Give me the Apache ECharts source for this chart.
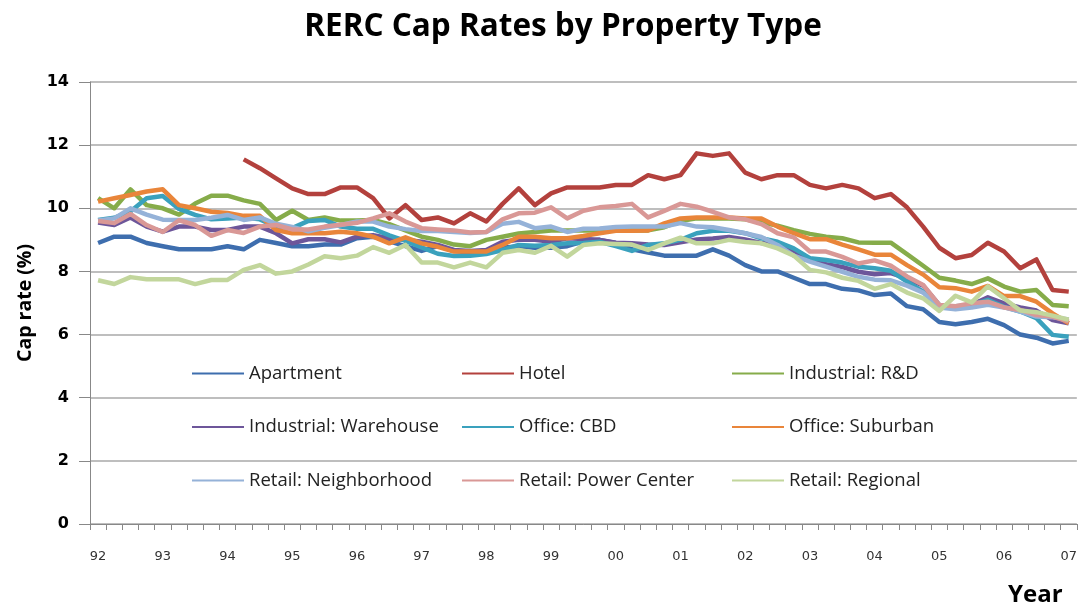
<!DOCTYPE html>
<html>
<head>
<meta charset="utf-8">
<script src="https://cdn.jsdelivr.net/npm/echarts@6/dist/echarts.min.js"></script>
<style>
  html, body { margin: 0; padding: 0; background: #fff; }
  #main { width: 1080px; height: 611px; }
</style>
</head>
<body>
<div id="main"></div>
<script>
var years = ['92', '93', '94', '95', '96', '97', '98', '99', '00', '01', '02', '03', '04', '05', '06', '07'];

// quarterly categories, 92Q1 .. 07Q1
var categories = [];
years.forEach(function (y, i) {
    var n = (i === years.length - 1) ? 1 : 4;
    for (var q = 1; q <= n; q++) categories.push(y + 'Q' + q);
});

var apartment = [8.9, 9.1, 9.1, 8.9, 8.8, 8.7, 8.7, 8.7, 8.8, 8.7, 9.0, 8.9, 8.8, 8.8, 8.85,
    8.85, 9.05, 9.1, 8.95, 8.8, 8.65, 8.8, 8.65, 8.6, 8.65, 8.75, 8.8, 8.75, 8.75, 8.8,
    8.95, 9.0, 8.9, 8.7, 8.6, 8.5, 8.5, 8.5, 8.7, 8.5, 8.2, 8.0, 8.0, 7.8, 7.6,
    7.6, 7.45, 7.4, 7.25, 7.3, 6.9, 6.8, 6.4, 6.33, 6.4, 6.5, 6.3, 6.0, 5.9, 5.72, 5.8];
var hotel = [null, null, null, null, null, null, null, null, null, 11.55, 11.27, 10.95, 10.63, 10.45, 10.45,
    10.66, 10.66, 10.32, 9.68, 10.1, 9.63, 9.71, 9.52, 9.84, 9.58, 10.14, 10.63, 10.1, 10.47, 10.66,
    10.66, 10.66, 10.74, 10.74, 11.05, 10.92, 11.05, 11.74, 11.66, 11.74, 11.13, 10.92, 11.05, 11.05, 10.74,
    10.63, 10.74, 10.63, 10.32, 10.45, 10.03, 9.42, 8.75, 8.42, 8.52, 8.91, 8.63, 8.1, 8.38, 7.41, 7.36];
var industrialRD = [10.32, 10.0, 10.6, 10.1, 10.0, 9.8, 10.15, 10.4, 10.4, 10.25, 10.14, 9.63, 9.92, 9.63, 9.71,
    9.61, 9.61, 9.63, 9.5, 9.3, 9.1, 9.0, 8.85, 8.8, 9.0, 9.1, 9.2, 9.25, 9.3, 9.3,
    9.3, 9.3, 9.3, 9.3, 9.3, 9.4, 9.6, 9.68, 9.68, 9.68, 9.65, 9.55, 9.45, 9.31, 9.19,
    9.1, 9.05, 8.92, 8.91, 8.91, 8.55, 8.18, 7.8, 7.71, 7.6, 7.78, 7.52, 7.36, 7.41, 6.94, 6.9];
var industrialWarehouse = [9.55, 9.47, 9.71, 9.42, 9.26, 9.42, 9.42, 9.31, 9.31, 9.42, 9.42, 9.21, 8.89, 9.02, 9.02,
    8.92, 9.1, 9.15, 9.05, 9.0, 8.94, 8.84, 8.68, 8.65, 8.68, 8.94, 9.0, 9.0, 8.94, 9.05,
    9.03, 9.0, 8.91, 8.89, 8.85, 8.84, 8.92, 9.01, 9.04, 9.09, 9.01, 8.9, 8.84, 8.63, 8.4,
    8.23, 8.14, 7.99, 7.91, 7.95, 7.78, 7.55, 6.94, 6.86, 6.94, 7.18, 6.99, 6.86, 6.76, 6.46, 6.36];
var officeCBD = [9.63, 9.7, 9.9, 10.32, 10.39, 9.98, 9.79, 9.65, 9.68, 9.71, 9.65, 9.42, 9.37, 9.6, 9.63,
    9.42, 9.35, 9.35, 9.14, 8.97, 8.76, 8.56, 8.49, 8.5, 8.55, 8.68, 8.84, 8.81, 8.84, 8.89,
    8.9, 8.94, 8.8, 8.65, 8.84, 8.89, 9.0, 9.21, 9.29, 9.29, 9.21, 9.05, 8.94, 8.73, 8.42,
    8.36, 8.28, 8.15, 8.1, 8.02, 7.68, 7.36, 6.9, 6.9, 6.94, 7.1, 6.88, 6.73, 6.52, 5.99, 5.93];
var officeSuburban = [10.21, 10.32, 10.42, 10.53, 10.6, 10.1, 10.0, 9.89, 9.85, 9.76, 9.76, 9.31, 9.21, 9.21, 9.21,
    9.26, 9.21, 9.1, 8.89, 9.08, 8.89, 8.78, 8.63, 8.63, 8.63, 8.84, 9.1, 9.1, 9.05, 9.05,
    9.12, 9.21, 9.29, 9.29, 9.3, 9.52, 9.68, 9.71, 9.71, 9.71, 9.68, 9.68, 9.42, 9.21, 9.02,
    9.02, 8.85, 8.7, 8.53, 8.53, 8.2, 7.9, 7.5, 7.47, 7.36, 7.54, 7.22, 7.22, 7.04, 6.67, 6.36];
var retailNeighborhood = [9.61, 9.68, 10.0, 9.8, 9.64, 9.63, 9.63, 9.7, 9.79, 9.63, 9.71, 9.51, 9.41, 9.27, 9.38,
    9.47, 9.58, 9.58, 9.42, 9.34, 9.28, 9.28, 9.25, 9.22, 9.25, 9.51, 9.57, 9.37, 9.42, 9.25,
    9.35, 9.36, 9.41, 9.42, 9.42, 9.42, 9.53, 9.42, 9.4, 9.31, 9.21, 9.09, 8.84, 8.5, 8.31,
    8.15, 7.99, 7.83, 7.74, 7.72, 7.55, 7.33, 6.86, 6.8, 6.86, 6.94, 6.86, 6.73, 6.57, 6.55, 6.48];
var retailPowerCenter = [9.6, 9.53, 9.82, 9.47, 9.25, 9.62, 9.47, 9.13, 9.31, 9.22, 9.42, 9.47, 9.33, 9.33, 9.42,
    9.48, 9.54, 9.68, 9.84, 9.58, 9.37, 9.33, 9.3, 9.23, 9.25, 9.65, 9.84, 9.86, 10.03, 9.68,
    9.92, 10.03, 10.07, 10.14, 9.71, 9.92, 10.14, 10.05, 9.89, 9.71, 9.65, 9.5, 9.21, 9.08, 8.63,
    8.63, 8.46, 8.25, 8.35, 8.18, 7.84, 7.57, 6.94, 6.9, 6.99, 7.04, 6.86, 6.78, 6.62, 6.57, 6.41];
var retailRegional = [7.72, 7.6, 7.82, 7.75, 7.75, 7.75, 7.6, 7.73, 7.73, 8.05, 8.2, 7.93, 8.0, 8.22, 8.48,
    8.42, 8.5, 8.77, 8.59, 8.84, 8.28, 8.28, 8.13, 8.28, 8.13, 8.59, 8.68, 8.59, 8.81, 8.47,
    8.84, 8.89, 8.87, 8.85, 8.68, 8.89, 9.07, 8.89, 8.89, 9.0, 8.93, 8.89, 8.73, 8.5, 8.05,
    7.97, 7.8, 7.7, 7.45, 7.6, 7.33, 7.15, 6.75, 7.23, 7.02, 7.53, 7.15, 6.76, 6.71, 6.6, 6.47];

var seriesNames = ['Apartment', 'Hotel', 'Industrial: R&D', 'Industrial: Warehouse', 'Office: CBD',
    'Office: Suburban', 'Retail: Neighborhood', 'Retail: Power Center', 'Retail: Regional'];
var seriesData = [apartment, hotel, industrialRD, industrialWarehouse, officeCBD,
    officeSuburban, retailNeighborhood, retailPowerCenter, retailRegional];
var colors = ['#3e6eae', '#b3413d', '#86ac4a', '#6d569a', '#3aa1bd',
    '#e9853a', '#95b2d8', '#d99896', '#c2d69c'];

var myChart = echarts.init(document.getElementById('main'));

var legendText = { fontFamily: 'Open Sans', fontSize: 18.5, color: '#222' };
function legendColumn(left, names) {
    return {
        orient: 'vertical',
        left: left,
        top: 359,
        itemWidth: 52,
        itemHeight: 20,
        itemGap: 34.5,
        icon: 'path://M0,9 L52,9 L52,11 L0,11 Z',
        textStyle: legendText,
        data: names
    };
}

var option = {
    animation: false,
    color: colors,
    title: [
        {
            text: 'RERC Cap Rates by Property Type',
            left: 558,
            top: 6,
            textAlign: 'center',
            textStyle: { fontFamily: 'Open Sans', fontWeight: 'bold', fontSize: 31.5, color: '#000' }
        },
        {
            text: 'Year',
            left: 1003,
            top: 578,
            textStyle: { fontFamily: 'Open Sans', fontWeight: 'bold', fontSize: 24, color: '#000' }
        }
    ],
    legend: [
        legendColumn(187, [seriesNames[0], seriesNames[3], seriesNames[6]]),
        legendColumn(457, [seriesNames[1], seriesNames[4], seriesNames[7]]),
        legendColumn(727, [seriesNames[2], seriesNames[5], seriesNames[8]])
    ],
    grid: { left: 90, right: 1, top: 82, bottom: 87 },
    xAxis: {
        type: 'category',
        data: categories,
        boundaryGap: true,
        axisLine: { lineStyle: { color: '#888', width: 1 } },
        axisTick: { show: true, interval: 0, length: 6, lineStyle: { color: '#888' } },
        axisLabel: {
            interval: 3,
            margin: 26,
            fontFamily: 'DejaVu Sans',
            fontSize: 13,
            color: '#333',
            formatter: function (v) { return v.slice(0, 2); }
        },
        splitLine: { show: false }
    },
    yAxis: {
        type: 'value',
        min: 0,
        max: 14,
        interval: 2,
        name: 'Cap rate (%)',
        nameLocation: 'middle',
        nameGap: 54,
        nameTextStyle: { fontFamily: 'Open Sans', fontWeight: 'bold', fontSize: 19.5, color: '#000' },
        axisLine: { show: true, lineStyle: { color: '#888', width: 1 } },
        axisTick: { show: true, length: 11, lineStyle: { color: '#888' } },
        axisLabel: { margin: 21, fontFamily: 'DejaVu Sans', fontWeight: 'bold', fontSize: 16, color: '#000' },
        splitLine: { lineStyle: { color: '#a9a9a9', width: 1.5 } }
    },
    series: seriesNames.map(function (name, i) {
        return {
            name: name,
            type: 'line',
            data: seriesData[i],
            symbol: 'none',
            connectNulls: false,
            lineStyle: { width: 4.5, color: colors[i], join: 'round' },
            itemStyle: { color: colors[i] }
        };
    })
};

myChart.setOption(option);
</script>
</body>
</html>
